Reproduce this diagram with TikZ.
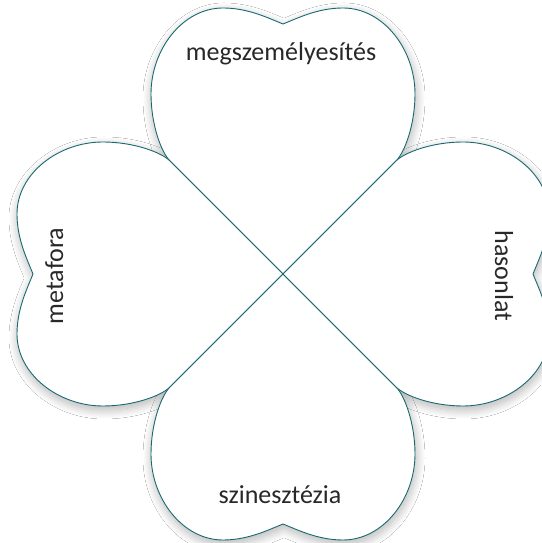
\documentclass[tikz,border=0pt]{standalone}
\usepackage{fontspec}
\setmainfont{Carlito}
\usetikzlibrary{shadows.blur}
\definecolor{heartline}{RGB}{24,104,112}
\definecolor{labeltext}{RGB}{40,40,40}
\newcommand{\heartpath}{(0,0) -- (-113,113)
  .. controls (-122,122) and (-132,150) .. (-132,180)
  .. controls (-132,225) and (-100,266) .. (-60,266)
  .. controls (-35,266) and (-15,256) .. (0,250)
  .. controls (15,256) and (35,266) .. (60,266)
  .. controls (100,266) and (132,225) .. (132,180)
  .. controls (132,150) and (122,122) .. (113,113) -- cycle}
\tikzset{
  leafshadow/.style={fill=white,blur shadow={shadow xshift=1pt,shadow yshift=-4pt,
    shadow blur radius=9pt,shadow blur steps=20,shadow opacity=30}},
  leaf/.style={fill=white,draw=heartline,line width=0.9pt,line join=miter},
  leaflabel/.style={text=labeltext,font=\fontsize{26}{30}\selectfont,anchor=base}
}
\begin{document}
\begin{tikzpicture}[x=1pt,y=1pt]
\useasboundingbox (0,0) rectangle (541,543);
\fill[white] (0,0) rectangle (541,543);
\foreach \a in {0,90,180,270}
{
\begin{scope}[shift={(283,269)},rotate=\a]
\path[leafshadow] \heartpath;
\end{scope}
}
\foreach \a in {0,90,180,270}
{
\begin{scope}[shift={(283,269)},rotate=\a]
\draw[leaf] \heartpath;
\end{scope}
}
\node[leaflabel] (top) at (281,482) {megszemélyesítés};
\node[leaflabel] (bottom) at (280,39) {szinesztézia};
\node[leaflabel,rotate=90] (left) at (63,267) {metafora};
\node[leaflabel,rotate=-90] (right) at (495,267) {hasonlat};
\end{tikzpicture}
\end{document}
